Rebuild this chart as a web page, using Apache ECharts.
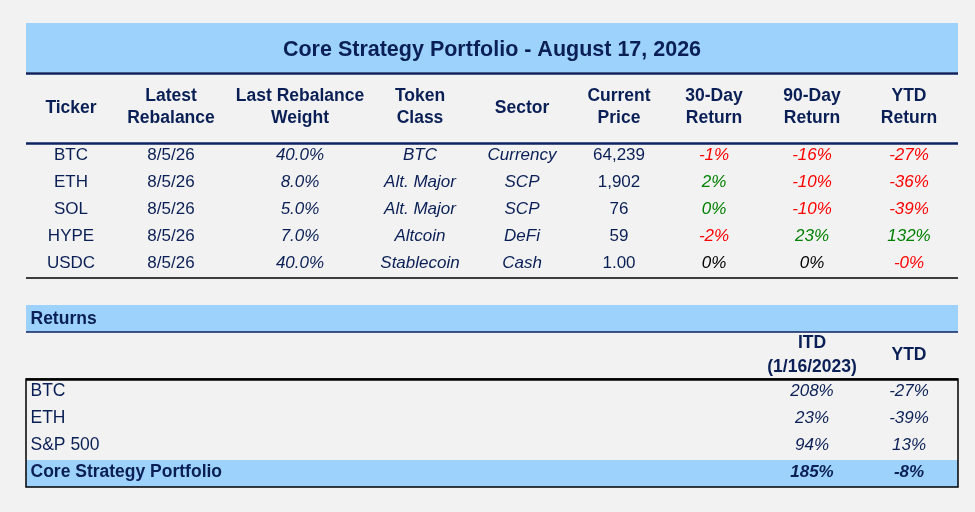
<!DOCTYPE html>
<html>
<head>
<meta charset="utf-8">
<script src="https://cdn.jsdelivr.net/npm/echarts@6.0.0/dist/echarts.min.js"></script>
<style>
  html, body { margin: 0; padding: 0; background: #f2f2f2; }
  #chart { width: 975px; height: 512px; }
</style>
</head>
<body>
<div id="chart"></div>
<script>
// ---- data ----
var titleText = 'Core Strategy Portfolio - August 17, 2026';
var headers = ['Ticker', 'Latest\nRebalance', 'Last Rebalance\nWeight', 'Token\nClass', 'Sector',
    'Current\nPrice', '30-Day\nReturn', '90-Day\nReturn', 'YTD\nReturn'];
var tickers = ['BTC', 'ETH', 'SOL', 'HYPE', 'USDC'];
var rebalanceDates = ['8/5/26', '8/5/26', '8/5/26', '8/5/26', '8/5/26'];
var weights = [40.0, 8.0, 5.0, 7.0, 40.0];
var tokenClasses = ['BTC', 'Alt. Major', 'Alt. Major', 'Altcoin', 'Stablecoin'];
var sectors = ['Currency', 'SCP', 'SCP', 'DeFi', 'Cash'];
var prices = [64239, 1902, 76, 59, 1.00];
var return30 = [-1, 2, 0.3, -2, 0];
var return90 = [-16, -10, -10, 23, 0];
var returnYtd = [-27, -36, -39, 132, -0.1];

var returnNames = ['BTC', 'ETH', 'S&P 500', 'Core Strategy Portfolio'];
var itdReturns = [208, 23, 94, 185];
var ytdReturns = [-27, -39, 13, -8];

// ---- layout ----
var LEFT = 26, RIGHT = 958;
var colX = [71, 171, 300, 420, 522, 619, 714, 812, 909];
var rowY = [155.5, 182.5, 209.5, 236.5, 263.5];
var retRowY = [391.5, 418.5, 445.5, 472.5];

var NAVY = '#0a1f55';
var LINE_NAVY = '#0c2360';
var BAND = '#9dd2fc';
var RED = '#ff0000';
var GREEN = '#008000';
var FONT = 'Arial, "Liberation Sans", sans-serif';

function pct(v) {
    var r = Math.abs(Math.round(v));
    return (v < 0 ? '-' : '') + r + '%';
}
function signColor(v) {
    if (v > 0) return GREEN;
    if (v < 0) return RED;
    return '#000000';
}
function fmtPrice(p) {
    if (p < 10) return p.toFixed(2);
    return p.toLocaleString('en-US', { maximumFractionDigits: 0 });
}

function cell(x, y, text, opts) {
    opts = opts || {};
    return {
        name: text,
        value: [x, y],
        label: {
            color: opts.color || NAVY,
            fontSize: opts.size || 17,
            fontWeight: opts.bold ? 'bold' : 'normal',
            fontStyle: opts.italic ? 'italic' : 'normal',
            align: opts.align || 'center',
            lineHeight: opts.lineHeight || 22
        }
    };
}

var cells = [];
cells.push(cell((LEFT + RIGHT) / 2, 50.5, titleText, { bold: true, size: 21.5 }));

headers.forEach(function (h, i) {
    var y = h.indexOf('\n') >= 0 ? 107.5 : 108.5;
    cells.push(cell(colX[i], y, h, { bold: true, size: 17.5 }));
});

tickers.forEach(function (t, r) {
    var y = rowY[r];
    cells.push(cell(colX[0], y, t));
    cells.push(cell(colX[1], y, rebalanceDates[r]));
    cells.push(cell(colX[2], y, weights[r].toFixed(1) + '%', { italic: true }));
    cells.push(cell(colX[3], y, tokenClasses[r], { italic: true }));
    cells.push(cell(colX[4], y, sectors[r], { italic: true }));
    cells.push(cell(colX[5], y, fmtPrice(prices[r])));
    cells.push(cell(colX[6], y, pct(return30[r]), { italic: true, color: signColor(return30[r]) }));
    cells.push(cell(colX[7], y, pct(return90[r]), { italic: true, color: signColor(return90[r]) }));
    cells.push(cell(colX[8], y, pct(returnYtd[r]), { italic: true, color: signColor(returnYtd[r]) }));
});

cells.push(cell(30.5, 319, 'Returns', { bold: true, align: 'left', size: 17.5 }));
cells.push(cell(812, 355, 'ITD\n(1/16/2023)', { bold: true, size: 17.5, lineHeight: 24 }));
cells.push(cell(909, 355.5, 'YTD', { bold: true, size: 17.5 }));

returnNames.forEach(function (n, r) {
    var y = retRowY[r];
    var last = r === returnNames.length - 1;
    cells.push(cell(30.5, y, n, { align: 'left', bold: last, size: 17.5 }));
    cells.push(cell(812, y, pct(itdReturns[r]), { italic: true, bold: last }));
    cells.push(cell(909, y, pct(ytdReturns[r]), { italic: true, bold: last }));
});

function hline(y, color, width) {
    return [{ coord: [LEFT, y], lineStyle: { color: color, width: width, type: 'solid' } }, { coord: [RIGHT, y] }];
}
function area(y1, y2, style) {
    return [{ coord: [LEFT, y1], itemStyle: style }, { coord: [RIGHT, y2] }];
}

var chart = echarts.init(document.getElementById('chart'), null, { renderer: 'canvas' });

chart.setOption({
    backgroundColor: '#f2f2f2',
    animation: false,
    textStyle: { fontFamily: FONT },
    grid: { left: 0, right: 0, top: 0, bottom: 0, containLabel: false },
    xAxis: { type: 'value', min: 0, max: 975, show: false },
    yAxis: { type: 'value', min: 0, max: 512, inverse: true, show: false },
    series: [{
        type: 'scatter',
        silent: true,
        symbolSize: 1,
        itemStyle: { color: 'rgba(0,0,0,0)', opacity: 1 },
        label: {
            show: true,
            position: 'inside',
            verticalAlign: 'middle',
            fontFamily: FONT,
            formatter: function (p) { return p.name; }
        },
        data: cells,
        markArea: {
            silent: true,
            data: [
                area(23, 72, { color: BAND, opacity: 1 }),
                area(305, 332, { color: BAND, opacity: 1 }),
                area(460, 487, { color: BAND, opacity: 1 }),
                area(379, 487, { color: 'rgba(0,0,0,0)', borderColor: '#000000', borderWidth: 1.5, opacity: 1 })
            ]
        },
        markLine: {
            silent: true,
            symbol: ['none', 'none'],
            label: { show: false },
            data: [
                hline(73, LINE_NAVY, 2.5),
                hline(143, LINE_NAVY, 2.5),
                hline(278, '#000000', 1.5),
                hline(332, LINE_NAVY, 1.5),
                hline(379, '#000000', 2.5)
            ]
        }
    }]
});
</script>
</body>
</html>
